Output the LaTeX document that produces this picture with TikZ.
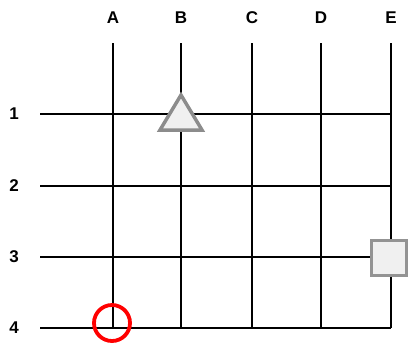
\documentclass[tikz,border=0pt]{standalone}
\usepackage{fontspec}
\setmainfont{Liberation Sans}
\begin{document}
\begin{tikzpicture}[x=1pt,y=-1pt,
  gridline/.style={line width=1.3pt,black},
  lbl/.style={font=\bfseries\fontsize{17}{17}\selectfont,inner sep=0pt},
  marker/.style={draw=gray!90,line width=3.5pt,fill=gray!12}]
\useasboundingbox (0,0) rectangle (411,346);
\foreach \n/\x in {A/113,B/181,C/252,D/321,E/391}{
  \node[lbl] (c\n) at (\x,18) {\n};
  \coordinate (t\n) at (\x,43);
  \coordinate (b\n) at (\x,328);
  \draw[gridline] (t\n) -- (b\n);
}
\foreach \n/\y in {1/114,2/186,3/257,4/328}{
  \node[lbl] (r\n) at (14,\y) {\n};
  \coordinate (l\n) at (40,\y);
  \coordinate (e\n) at (391,\y);
  \draw[gridline] (l\n) -- (e\n);
}
\draw[marker,line join=miter] (181,95) -- (202,130) -- (160,130) -- cycle;
\node[marker,draw=gray!85,minimum size=35pt,inner sep=0pt] (sq) at (389,258) {};
\draw[red,line width=3.8pt] (112,323) circle (18);
\end{tikzpicture}
\end{document}
